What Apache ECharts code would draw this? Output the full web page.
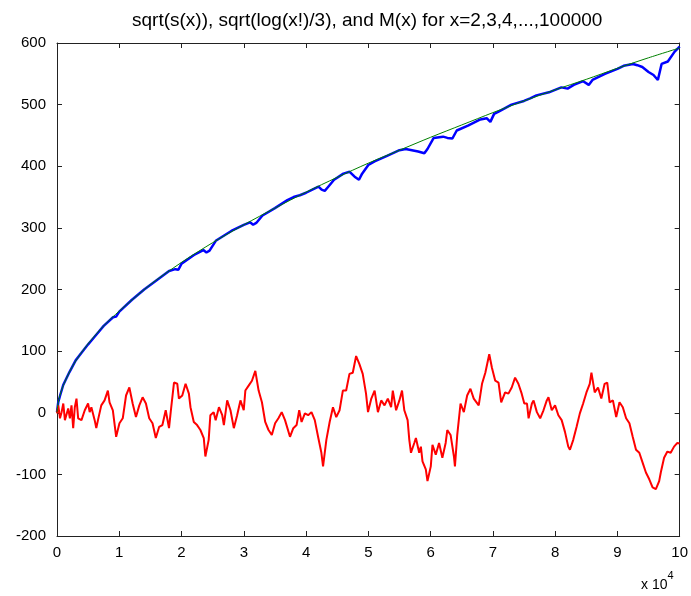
<!DOCTYPE html>
<html>
<head>
<meta charset="utf-8">
<script src="https://cdn.jsdelivr.net/npm/echarts@6/dist/echarts.min.js"></script>
<style>
  html, body { margin: 0; padding: 0; background: #fff; }
  #chart { width: 691px; height: 596px; }
</style>
</head>
<body>
<div id="chart"></div>
<script>
// x in units of 10^4
const xTicks = [0, 1, 2, 3, 4, 5, 6, 7, 8, 9, 10];
const yTicks = [-200, -100, 0, 100, 200, 300, 400, 500, 600];

// sqrt(log(x!)/3)
const greenPoints = [
    [0, 0.5], [0.02, 17], [0.05, 29], [0.1, 44], [0.2, 66], [0.3, 84], [0.5, 112],
    [0.75, 141], [1, 165], [1.5, 208], [2, 244], [2.5, 276], [3, 305], [3.5, 332],
    [4, 358], [4.5, 382], [5, 405], [5.5, 426], [6, 447], [6.5, 467], [7, 487],
    [7.5, 506], [8, 524], [8.5, 541], [9, 559], [9.5, 576], [10, 592]
];

// sqrt(s(x))
const bluePoints = [
    [0, 1], [0.02, 17], [0.05, 28], [0.1, 45], [0.2, 66], [0.3, 85], [0.4, 98],
    [0.5, 111], [0.6, 123], [0.75, 141], [0.9, 155], [0.95, 156], [1.0, 164],
    [1.2, 183], [1.4, 200], [1.6, 215], [1.8, 230], [1.9, 233], [1.95, 232],
    [2.0, 242], [2.2, 256], [2.35, 264], [2.4, 260], [2.45, 263], [2.55, 279],
    [2.8, 295], [3.0, 305], [3.1, 309], [3.15, 305], [3.2, 308], [3.3, 320],
    [3.5, 332], [3.7, 345], [3.8, 350], [3.9, 353], [4.0, 357], [4.1, 362],
    [4.2, 367], [4.25, 362], [4.3, 360], [4.35, 366], [4.45, 378], [4.6, 388],
    [4.7, 391], [4.78, 383], [4.85, 378], [4.9, 388], [5.0, 402], [5.1, 408],
    [5.3, 417], [5.5, 426], [5.6, 428], [5.7, 426], [5.8, 424], [5.9, 421],
    [5.95, 428], [6.05, 446], [6.2, 448], [6.27, 446], [6.35, 445], [6.42, 458],
    [6.6, 466], [6.8, 476], [6.9, 478], [6.96, 472], [7.02, 485], [7.1, 489],
    [7.3, 500], [7.5, 506], [7.6, 510], [7.7, 515], [7.9, 520], [8.0, 524],
    [8.1, 528], [8.2, 526], [8.3, 532], [8.45, 538], [8.54, 532], [8.6, 540],
    [8.8, 550], [9.0, 558], [9.1, 563], [9.25, 566], [9.32, 564], [9.4, 561],
    [9.5, 553], [9.58, 548], [9.65, 540], [9.71, 566], [9.81, 570], [9.92, 586],
    [10.0, 594]
];

// M(x)
const redPoints = [
    [0, -1], [0.021, 12], [0.048, -9], [0.074, 1], [0.101, 15], [0.127, -12], [0.18, 7],
    [0.207, -9], [0.233, 12], [0.26, -25], [0.286, 9], [0.313, 23], [0.34, -9], [0.393, -12],
    [0.446, 4], [0.499, 15], [0.525, 1], [0.552, 9], [0.605, -12], [0.631, -25], [0.658, -12],
    [0.711, 12], [0.764, 20], [0.817, 36], [0.844, 17], [0.897, 4], [0.95, -39], [1.003, -17],
    [1.056, -9], [1.109, 28], [1.162, 41], [1.215, 15], [1.268, -7], [1.322, 12], [1.375, 25],
    [1.428, 15], [1.481, -9], [1.534, -17], [1.587, -41], [1.64, -23], [1.693, -20], [1.746, 4],
    [1.799, -25], [1.826, 1], [1.879, 49], [1.932, 47], [1.958, 23], [2.012, 28], [2.065, 47],
    [2.118, 31], [2.144, 9], [2.197, -15], [2.25, -20], [2.303, -28], [2.357, -41], [2.383, -71],
    [2.436, -44], [2.463, -4], [2.495, -4], [2.516, 1], [2.548, -12], [2.601, 9], [2.654, -4],
    [2.68, -20], [2.733, 20], [2.786, 4], [2.84, -25], [2.893, -4], [2.946, 20], [2.999, 4],
    [3.025, 36], [3.078, 44], [3.131, 52], [3.185, 68], [3.238, 36], [3.291, 17], [3.344, -15],
    [3.397, -28], [3.45, -36], [3.503, -17], [3.556, -9], [3.609, 1], [3.662, -12], [3.742, -39],
    [3.795, -25], [3.848, -20], [3.89, 4], [3.928, -15], [3.981, -1], [4.034, -4], [4.087, 1],
    [4.14, -12], [4.193, -39], [4.246, -65], [4.273, -87], [4.326, -44], [4.379, -15], [4.432, 9],
    [4.485, -7], [4.538, 4], [4.591, 36], [4.644, 36], [4.697, 63], [4.75, 65], [4.804, 92],
    [4.857, 79], [4.91, 63], [4.963, 31], [4.995, 1], [5.048, 23], [5.101, 36], [5.154, 1],
    [5.207, 20], [5.26, 12], [5.313, 23], [5.366, 9], [5.393, 36], [5.446, 4], [5.499, 20],
    [5.541, 36], [5.578, 4], [5.631, -12], [5.658, -44], [5.685, -65], [5.738, -49], [5.764, -41],
    [5.817, -65], [5.844, -55], [5.87, -79], [5.923, -92], [5.95, -111], [6.003, -87], [6.03, -52],
    [6.083, -68], [6.136, -49], [6.189, -73], [6.242, -49], [6.268, -28], [6.321, -36], [6.375, -71],
    [6.391, -87], [6.428, -36], [6.481, 15], [6.534, 1], [6.587, 28], [6.64, 39], [6.693, 23],
    [6.773, 12], [6.826, 47], [6.879, 65], [6.942, 95], [6.985, 73], [7.038, 52], [7.091, 49],
    [7.134, 17], [7.197, 33], [7.25, 31], [7.303, 41], [7.357, 57], [7.41, 47], [7.463, 31],
    [7.505, 15], [7.548, 15], [7.574, -9], [7.627, 15], [7.654, 20], [7.707, 1], [7.76, -9],
    [7.813, 4], [7.866, 20], [7.893, 25], [7.946, 4], [7.999, 12], [8.052, -4], [8.105, -12],
    [8.158, -31], [8.211, -55], [8.238, -60], [8.291, -44], [8.344, -23], [8.397, -1], [8.45, 15],
    [8.503, 33], [8.556, 47], [8.583, 65], [8.636, 33], [8.689, 41], [8.742, 23], [8.795, 47],
    [8.837, 49], [8.875, 17], [8.928, 20], [8.981, -7], [9.034, 17], [9.087, 9], [9.14, -9],
    [9.193, -17], [9.246, -39], [9.299, -60], [9.352, -65], [9.405, -81], [9.458, -97],
    [9.512, -108], [9.565, -121], [9.618, -124], [9.671, -111], [9.697, -97], [9.75, -73],
    [9.803, -63], [9.856, -65], [9.91, -55], [9.963, -49], [10, -50]
];

const font = '"Liberation Sans", Arial, sans-serif';
const axisColor = '#222';

const chart = echarts.init(document.getElementById('chart'));

const baseAxis = {
    type: 'value',
    axisLine: { show: true, onZero: false, lineStyle: { color: axisColor, width: 1 } },
    axisTick: { show: true, inside: true, length: 5, lineStyle: { color: axisColor } },
    splitLine: { show: false }
};

chart.setOption({
    animation: false,
    backgroundColor: '#fff',
    title: {
        text: 'sqrt(s(x)), sqrt(log(x!)/3), and M(x) for x=2,3,4,...,100000',
        left: 127,
        top: 6,
        textStyle: { fontFamily: font, fontSize: 19, fontWeight: 'normal', color: '#000' }
    },
    grid: { left: 57, right: 6, top: 43, bottom: 60 },
    xAxis: [
        {
            ...baseAxis,
            position: 'bottom',
            min: xTicks[0], max: xTicks[xTicks.length - 1], interval: 1,
            axisLabel: { color: '#000', fontFamily: font, fontSize: 15, margin: 9 }
        },
        {
            ...baseAxis,
            position: 'top',
            min: xTicks[0], max: xTicks[xTicks.length - 1], interval: 1,
            axisLabel: { show: false }
        }
    ],
    yAxis: [
        {
            ...baseAxis,
            position: 'left',
            min: yTicks[0], max: yTicks[yTicks.length - 1], interval: 100,
            axisLabel: { color: '#000', fontFamily: font, fontSize: 15, margin: 11 }
        },
        {
            ...baseAxis,
            position: 'right',
            min: yTicks[0], max: yTicks[yTicks.length - 1], interval: 100,
            axisLabel: { show: false }
        }
    ],
    graphic: [
        {
            type: 'text',
            left: 641,
            top: 570,
            style: {
                text: '{a|x 10}{b|4}',
                rich: {
                    a: { fontFamily: font, fontSize: 14, fill: '#000', padding: [8, 0, 0, 0] },
                    b: { fontFamily: font, fontSize: 11, fill: '#000', verticalAlign: 'top' }
                }
            }
        }
    ],
    series: [
        {
            type: 'line', data: bluePoints, showSymbol: false,
            lineStyle: { color: '#0000ff', width: 2.5 }, z: 2
        },
        {
            type: 'line', data: greenPoints, showSymbol: false, smooth: 0.3,
            lineStyle: { color: '#008000', width: 1 }, z: 3
        },
        {
            type: 'line', data: redPoints, showSymbol: false,
            lineStyle: { color: '#ff0000', width: 2 }, z: 2
        }
    ]
});
</script>
</body>
</html>
